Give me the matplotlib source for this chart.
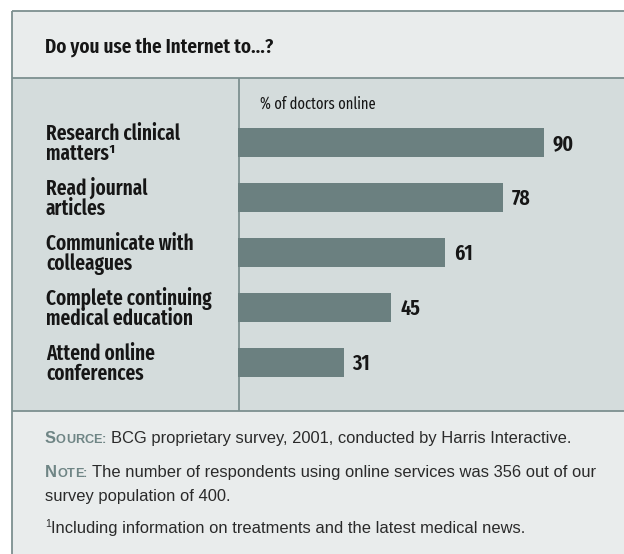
import matplotlib
matplotlib.use("Agg")
import matplotlib.pyplot as plt
from matplotlib import font_manager as fm
from matplotlib.patches import Rectangle
from matplotlib.transforms import blended_transform_factory

# ---------------- data ----------------
title = "Do you use the Internet to...?"
axis_caption = "% of doctors online"
categories = ["Research clinical\nmatters\u00b9", "Read journal\narticles", "Communicate with\ncolleagues",
              "Complete continuing\nmedical education", "Attend online\nconferences"]
values = [90, 78, 61, 45, 31]
source_label = "Source:"
source_text = "BCG proprietary survey, 2001, conducted by Harris Interactive."
note_label = "Note:"
note_text = ["The number of respondents using online services was 356 out of our", "survey population of 400."]
footnote_mark = "1"
footnote_text = "Including information on treatments and the latest medical news."

# ---------------- fonts ----------------
def pick(cands):
    for c in cands:
        try:
            fm.findfont(fm.FontProperties(family=c), fallback_to_default=False)
            return c
        except Exception:
            pass
    return 'DejaVu Sans'

COND = pick(['Fira Sans Extra Condensed', 'Barlow Condensed', 'Roboto Condensed', 'DejaVu Sans'])
BODY = pick(['Liberation Sans', 'Arimo', 'Roboto', 'DejaVu Sans'])

# ---------------- colours ----------------
C_HEAD = '#E9ECEC'
C_MID = '#D4DCDC'
C_BAR = '#6B8080'
C_LINE = '#7D9090'
C_TEXT = '#161616'
C_BODY = '#2A2A2A'
C_GREY = '#6F8585'

W, H = 624, 554
fig = plt.figure(figsize=(W / 100, H / 100), dpi=100)
fig.patch.set_facecolor('white')
ov = fig.add_axes([0, 0, 1, 1], zorder=0)
ov.set_xlim(0, W)
ov.set_ylim(H, 0)
ov.axis('off')

# panel geometry (pixels)
L, T = 11.5, 10.7
Y_MID, Y_FOOT = 78.3, 410.5
X_DIV = 239.0

ov.add_patch(Rectangle((L, T), W - L, Y_MID - T, facecolor=C_HEAD, edgecolor='none', zorder=0))
ov.add_patch(Rectangle((L, Y_MID), W - L, Y_FOOT - Y_MID, facecolor=C_MID, edgecolor='none', zorder=0))
ov.add_patch(Rectangle((L, Y_FOOT), W - L, H - Y_FOOT, facecolor=C_HEAD, edgecolor='none', zorder=0))
lw = 1.3
ov.plot([L, W], [T, T], color=C_LINE, lw=lw, zorder=1, solid_capstyle='butt')
ov.plot([L, L], [T, H], color=C_LINE, lw=lw, zorder=1, solid_capstyle='butt')
ov.plot([L, W], [Y_MID, Y_MID], color=C_LINE, lw=lw, zorder=1, solid_capstyle='butt')
ov.plot([L, W], [Y_FOOT, Y_FOOT], color=C_LINE, lw=lw, zorder=1, solid_capstyle='butt')
ov.plot([X_DIV, X_DIV], [Y_MID, Y_FOOT], color=C_LINE, lw=lw, zorder=1, solid_capstyle='butt')

# title and caption
ov.text(45, 52.3, title, family=COND, weight='semibold', fontsize=14.9, color=C_TEXT, va='baseline', ha='left')
ov.text(260, 109, axis_caption, family=COND, weight='normal', fontsize=11.3, color=C_TEXT, va='baseline', ha='left')

# ---------------- bars ----------------
PX_PER_UNIT = 3.39
BAR_TOP0, PITCH, BAR_H = 142.5, 55.0, 28.4
bx0 = X_DIV - 0.5
axb = fig.add_axes([bx0 / W, (H - Y_FOOT) / H, (W - bx0) / W, (Y_FOOT - Y_MID) / H], zorder=2)
axb.patch.set_alpha(0)
axb.axis('off')
axb.set_xlim(0, (W - bx0) / PX_PER_UNIT)
y_top = (Y_MID - BAR_TOP0) / PITCH
y_bot = (Y_FOOT - BAR_TOP0) / PITCH
axb.set_ylim(y_bot, y_top)
idx = list(range(len(values)))
axb.barh(idx, values, height=BAR_H / PITCH, color=C_BAR, edgecolor='none')
for i, v in zip(idx, values):
    axb.annotate(f"{v}", xy=(v, i), xytext=(9.0 * 0.72, -7.6 * 0.72), textcoords='offset points',
                 family=COND, weight='semibold', fontsize=15.6, color=C_TEXT, va='baseline', ha='left')

# category labels (two lines each), positioned on the bar axis rows
tr = blended_transform_factory(ov.transData, axb.transData)
for i, lab in zip(idx, categories):
    lines = lab.split('\n')
    offs = [-2.5, 17.5]
    for ln, o in zip(lines, offs):
        ov.text(46, i + o / PITCH, ln, transform=tr, family=COND, weight='semibold', fontsize=15.0,
                color=C_TEXT, va='baseline', ha='left')

# ---------------- footer ----------------
fig.canvas.draw()
renderer = fig.canvas.get_renderer()

def run(x, y, parts, weight='normal'):
    for txt, size, color in parts:
        t = ov.text(x, y, txt, family=BODY, fontsize=size, color=color, va='baseline', ha='left', weight=weight)
        x += t.get_window_extent(renderer).width
    return x

def small_caps(label, big, small):
    parts = []
    for ch in label:
        if ch.isupper():
            parts.append((ch, big, C_GREY))
        else:
            parts.append((ch.upper(), small, C_GREY))
    return parts

FS = 11.85
FSC = 9.2
x = run(45, 443.3, small_caps(source_label, FS, FSC), weight='bold')
run(x + 4.5, 443.3, [(source_text, FS, C_BODY)])
x = run(45, 476.7, small_caps(note_label, FS, FSC), weight='bold')
run(x + 4.5, 476.7, [(note_text[0], FS, C_BODY)])
run(45, 500.7, [(note_text[1], FS, C_BODY)])
x = run(45, 527.0, [(footnote_mark, 7.5, C_BODY)])
run(x + 0.5, 533.3, [(footnote_text, FS, C_BODY)])

fig.savefig("out.png", dpi=100, facecolor='white')
